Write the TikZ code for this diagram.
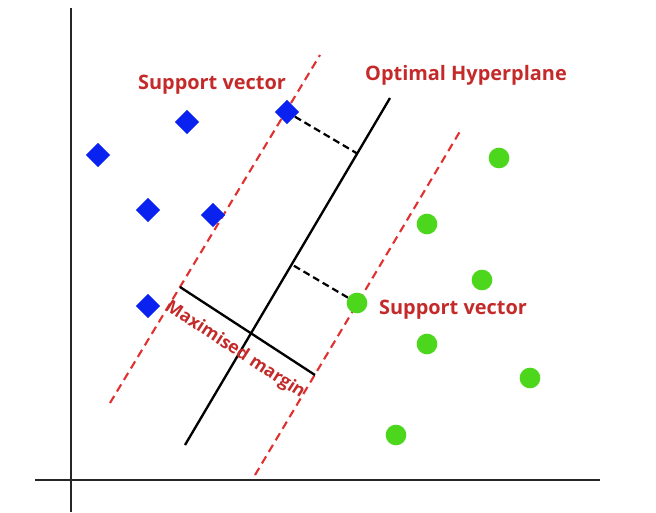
\documentclass[tikz,border=0pt]{standalone}
\usepackage{fontspec}
\setmainfont{Open Sans}
\usetikzlibrary{shapes.geometric,calc}
\definecolor{lblred}{HTML}{C42A2A}
\definecolor{dashred}{HTML}{E03030}
\definecolor{ptblue}{HTML}{0A22F0}
\definecolor{ptgreen}{HTML}{4CD71C}
\tikzset{
  axis/.style={line width=1.9pt, black!85},
  hyper/.style={line width=2pt, black},
  marginline/.style={line width=1.8pt, dashred, dash pattern=on 7pt off 4.5pt},
  perp/.style={line width=1.9pt, black, dash pattern=on 6pt off 3.5pt},
  bluept/.style={diamond, fill=ptblue, inner sep=0pt, minimum size=0.74cm},
  greenpt/.style={circle, fill=ptgreen, inner sep=0pt, minimum size=0.62cm},
  lbl/.style={text=lblred, font=\bfseries\fontsize{17}{19}\selectfont, inner sep=0pt},
}
\begin{document}
\begin{tikzpicture}[x=0.03cm, y=-0.03cm]
\useasboundingbox (0,0) rectangle (656,512);
% axes
\coordinate (yt) at (71,8);
\coordinate (yb) at (71,512);
\coordinate (xl) at (35,480);
\coordinate (xr) at (600,480);
\draw[axis] (yt) -- (yb);
\draw[axis] (xl) -- (xr);
% hyperplane and margins
\coordinate (hA) at (185,445);
\coordinate (hB) at (390,98);
\coordinate (uA) at (110,403);
\coordinate (uB) at (320,55);
\coordinate (lA) at (255,475);
\coordinate (lB) at (462,128);
\draw[marginline] (uA) -- (uB);
\draw[marginline] (lA) -- (lB);
\draw[hyper] (hA) -- (hB);
% maximised margin segment
\coordinate (m1) at (180,287);
\coordinate (m2) at (315,375);
\draw[hyper] (m1) -- (m2);
\node[lbl, rotate=-33.1, font=\bfseries\fontsize{15}{17}\selectfont] (mm) at (235,350) {Maximised margin};
% blue points
\node[bluept] (b1) at (98,155) {};
\node[bluept] (b2) at (187,122) {};
\node[bluept] (b3) at (287,112) {};
\node[bluept] (b4) at (148,210) {};
\node[bluept] (b5) at (213,215) {};
\node[bluept] (b6) at (148,306) {};
% green points
\node[greenpt] (g1) at (499,158) {};
\node[greenpt] (g2) at (427,224) {};
\node[greenpt] (g3) at (482,280) {};
\node[greenpt] (g4) at (357,303) {};
\node[greenpt] (g5) at (427,344) {};
\node[greenpt] (g6) at (530,378) {};
\node[greenpt] (g7) at (396,435) {};
% perpendicular dashed lines
\coordinate (f1) at ($(hA)!(b3.center)!(hB)$);
\coordinate (f2) at ($(hA)!(g4.center)!(hB)$);
\draw[perp] (b3) -- (f1);
\draw[perp] (g4) -- (f2);
% labels
\node[lbl] (sv1) at (212,85) {Support vector};
\node[lbl] (oh) at (466,75) {Optimal Hyperplane};
\node[lbl] (sv2) at (453,310) {Support vector};
\end{tikzpicture}
\end{document}
